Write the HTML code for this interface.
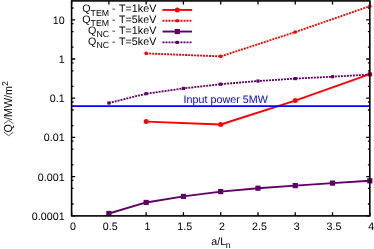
<!DOCTYPE html>
<html><head><meta charset="utf-8"><title>chart</title>
<style>html,body{margin:0;padding:0;background:#fff;overflow:hidden}body{width:374px;height:249px;position:relative;font-family:"Liberation Sans",sans-serif}</style></head>
<body>
<svg width="374" height="249" viewBox="0 0 374 249" style="position:absolute;left:0;top:0;font-family:'Liberation Sans',sans-serif;font-size:10.75px">
<rect x="0" y="0" width="374" height="249" fill="#fff"/>
<defs><filter id="tb" x="-5%" y="-5%" width="110%" height="110%" color-interpolation-filters="sRGB"><feGaussianBlur stdDeviation="0.28"/></filter></defs>
<path d="M71.60 215.90V212.30M71.60 0.90V4.50M108.88 215.90V212.30M108.88 0.90V4.50M146.15 215.90V212.30M146.15 0.90V4.50M183.43 215.90V212.30M183.43 0.90V4.50M220.70 215.90V212.30M220.70 0.90V4.50M257.98 215.90V212.30M257.98 0.90V4.50M295.25 215.90V212.30M295.25 0.90V4.50M332.53 215.90V212.30M332.53 0.90V4.50M369.80 215.90V212.30M369.80 0.90V4.50M71.60 215.80H75.20M369.80 215.80H366.20M71.60 204.00H73.50M369.80 204.00H367.90M71.60 188.40H73.50M369.80 188.40H367.90M71.60 180.40H73.50M369.80 180.40H367.90M71.60 176.60H75.20M369.80 176.60H366.20M71.60 164.80H73.50M369.80 164.80H367.90M71.60 149.20H73.50M369.80 149.20H367.90M71.60 141.20H73.50M369.80 141.20H367.90M71.60 137.40H75.20M369.80 137.40H366.20M71.60 125.60H73.50M369.80 125.60H367.90M71.60 110.00H73.50M369.80 110.00H367.90M71.60 102.00H73.50M369.80 102.00H367.90M71.60 98.20H75.20M369.80 98.20H366.20M71.60 86.40H73.50M369.80 86.40H367.90M71.60 70.80H73.50M369.80 70.80H367.90M71.60 62.80H73.50M369.80 62.80H367.90M71.60 59.00H75.20M369.80 59.00H366.20M71.60 47.20H73.50M369.80 47.20H367.90M71.60 31.60H73.50M369.80 31.60H367.90M71.60 23.60H73.50M369.80 23.60H367.90M71.60 19.80H75.20M369.80 19.80H366.20M71.60 8.00H73.50M369.80 8.00H367.90" stroke="#000" stroke-width="1.3" fill="none"/>
<polyline points="146.15,121.60 220.70,124.50 295.25,100.60 369.80,74.20" fill="none" stroke="#ff0000" stroke-width="1.90" stroke-linejoin="round"/>
<circle cx="146.15" cy="121.60" r="2.50" fill="#ff0000"/>
<circle cx="220.70" cy="124.50" r="2.50" fill="#ff0000"/>
<circle cx="295.25" cy="100.60" r="2.50" fill="#ff0000"/>
<circle cx="369.80" cy="74.20" r="2.50" fill="#ff0000"/>
<polyline points="146.15,53.40 220.70,56.40 295.25,32.05 369.80,6.15" fill="none" stroke="#ff0000" stroke-width="1.90" stroke-linejoin="round" stroke-dasharray="1.9 1.1"/>
<circle cx="146.15" cy="53.40" r="1.80" fill="#ff0000"/>
<circle cx="220.70" cy="56.40" r="1.80" fill="#ff0000"/>
<circle cx="295.25" cy="32.05" r="1.80" fill="#ff0000"/>
<circle cx="369.80" cy="6.15" r="1.80" fill="#ff0000"/>
<polyline points="108.88,213.50 146.15,202.45 183.43,196.40 220.70,191.60 257.98,188.20 295.25,185.60 332.53,183.10 369.80,180.80" fill="none" stroke="#5f0066" stroke-width="1.90" stroke-linejoin="round"/>
<rect x="106.28" y="210.90" width="5.20" height="5.20" fill="#5f0066"/>
<rect x="143.55" y="199.85" width="5.20" height="5.20" fill="#5f0066"/>
<rect x="180.83" y="193.80" width="5.20" height="5.20" fill="#5f0066"/>
<rect x="218.10" y="189.00" width="5.20" height="5.20" fill="#5f0066"/>
<rect x="255.38" y="185.60" width="5.20" height="5.20" fill="#5f0066"/>
<rect x="292.65" y="183.00" width="5.20" height="5.20" fill="#5f0066"/>
<rect x="329.93" y="180.50" width="5.20" height="5.20" fill="#5f0066"/>
<rect x="367.20" y="178.20" width="5.20" height="5.20" fill="#5f0066"/>
<polyline points="108.88,103.00 146.15,93.70 183.43,88.40 220.70,84.20 257.98,81.05 295.25,78.60 332.53,76.70 369.80,74.50" fill="none" stroke="#5f0066" stroke-width="1.80" stroke-linejoin="round" stroke-dasharray="2.0 1.0"/>
<rect x="107.28" y="101.40" width="3.20" height="3.20" fill="#5f0066"/>
<rect x="144.55" y="92.10" width="3.20" height="3.20" fill="#5f0066"/>
<rect x="181.83" y="86.80" width="3.20" height="3.20" fill="#5f0066"/>
<rect x="219.10" y="82.60" width="3.20" height="3.20" fill="#5f0066"/>
<rect x="256.38" y="79.45" width="3.20" height="3.20" fill="#5f0066"/>
<rect x="293.65" y="77.00" width="3.20" height="3.20" fill="#5f0066"/>
<rect x="330.93" y="75.10" width="3.20" height="3.20" fill="#5f0066"/>
<rect x="368.20" y="72.90" width="3.20" height="3.20" fill="#5f0066"/>
<path d="M71.60 106.2H369.80" stroke="#0000ff" stroke-width="1.8" fill="none"/>
<rect x="71.60" y="0.90" width="298.20" height="215.00" fill="none" stroke="#000" stroke-width="1.6"/>
<g filter="url(#tb)">
<path d="M162.50 9.95H192.00" stroke="#ff0000" stroke-width="1.90" fill="none"/>
<circle cx="177.30" cy="9.95" r="2.50" fill="#ff0000"/>
<text transform="translate(156.30 12.35) skewX(0.4)" text-anchor="end">Q<tspan font-size="8.80px" dy="3.3">TEM</tspan><tspan dy="-3.3" dx="-0.2"> -</tspan><tspan dx="0.7"> T=1keV</tspan></text>
<path d="M162.50 20.75H192.00" stroke="#ff0000" stroke-width="1.85" fill="none" stroke-dasharray="1.9 1.1"/>
<circle cx="177.30" cy="20.75" r="1.70" fill="#ff0000"/>
<text transform="translate(156.30 23.15) skewX(0.4)" text-anchor="end">Q<tspan font-size="8.80px" dy="3.3">TEM</tspan><tspan dy="-3.3" dx="-0.2"> -</tspan><tspan dx="0.7"> T=5keV</tspan></text>
<path d="M162.50 31.55H192.00" stroke="#5f0066" stroke-width="1.90" fill="none"/>
<rect x="174.70" y="28.95" width="5.20" height="5.20" fill="#5f0066"/>
<text transform="translate(156.30 33.95) skewX(0.4)" text-anchor="end">Q<tspan font-size="8.80px" dy="3.3">NC</tspan><tspan dy="-3.3" dx="-0.2"> -</tspan><tspan dx="0.7"> T=1keV</tspan></text>
<path d="M162.50 42.40H192.00" stroke="#5f0066" stroke-width="1.75" fill="none" stroke-dasharray="2.0 1.0"/>
<rect x="175.75" y="40.85" width="3.10" height="3.10" fill="#5f0066"/>
<text transform="translate(156.30 44.80) skewX(0.4)" text-anchor="end">Q<tspan font-size="8.80px" dy="3.3">NC</tspan><tspan dy="-3.3" dx="-0.2"> -</tspan><tspan dx="0.7"> T=5keV</tspan></text>
<text transform="translate(64.70 219.70) skewX(0.4)" text-anchor="end">0.0001</text>
<text transform="translate(64.70 180.50) skewX(0.4)" text-anchor="end">0.001</text>
<text transform="translate(64.70 141.30) skewX(0.4)" text-anchor="end">0.01</text>
<text transform="translate(64.70 102.10) skewX(0.4)" text-anchor="end">0.1</text>
<text transform="translate(64.70 62.90) skewX(0.4)" text-anchor="end">1</text>
<text transform="translate(64.70 23.70) skewX(0.4)" text-anchor="end">10</text>
<text transform="translate(73.00 229.90) skewX(0.4)" text-anchor="middle">0</text>
<text transform="translate(110.28 229.90) skewX(0.4)" text-anchor="middle">0.5</text>
<text transform="translate(147.55 229.90) skewX(0.4)" text-anchor="middle">1</text>
<text transform="translate(184.83 229.90) skewX(0.4)" text-anchor="middle">1.5</text>
<text transform="translate(222.10 229.90) skewX(0.4)" text-anchor="middle">2</text>
<text transform="translate(259.38 229.90) skewX(0.4)" text-anchor="middle">2.5</text>
<text transform="translate(296.65 229.90) skewX(0.4)" text-anchor="middle">3</text>
<text transform="translate(333.93 229.90) skewX(0.4)" text-anchor="middle">3.5</text>
<text transform="translate(371.20 229.90) skewX(0.4)" text-anchor="middle">4</text>
<text transform="translate(221.00 245.10) skewX(0.4)" text-anchor="middle">a/L<tspan font-size="8.80px" dy="2.8" dx="-0.4">n</tspan></text>
<text transform="translate(183.60 102.50) skewX(0.4)" fill="#0000ff">Input power 5MW</text>
<g transform="translate(12.3,136.3) rotate(-90)">
<path d="M4.1 -8.3L0.6 -3.65L4.1 1.0M12.6 -8.3L16.0 -3.65L12.6 1.0" stroke="#222" stroke-width="0.75" fill="none"/>
<text x="3.8" y="0">Q</text>
<text x="16.3" y="0">/MW/m<tspan font-size="8.80px" dy="-4.2">2</tspan></text>
</g>
</g>
</svg>
</body></html>
